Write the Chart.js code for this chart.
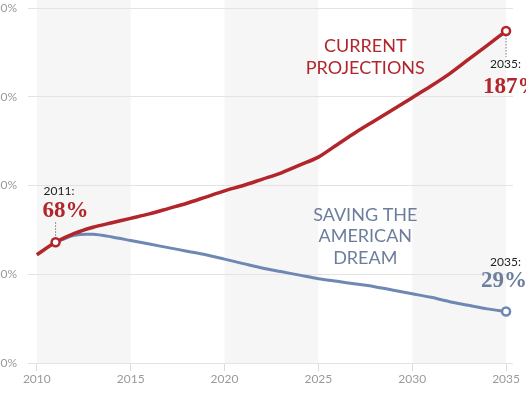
<!DOCTYPE html>
<html>
<head>
<meta charset="utf-8">
<script src="https://cdn.jsdelivr.net/npm/chart.js@4.4.1/dist/chart.umd.min.js"></script>
<style>
  html, body { margin: 0; padding: 0; background: #fff; overflow: hidden; width: 526px; height: 395px; }
  #wrap { position: absolute; left: -40px; top: 0; width: 566px; height: 395px; }
</style>
</head>
<body>
<div id="wrap"><canvas id="c" width="566" height="395"></canvas></div>
<script>
const years = [2010,2011,2012,2013,2014,2015,2016,2017,2018,2019,2020,2021,2022,2023,2024,2025,2026,2027,2028,2029,2030,2031,2032,2033,2034,2035];
const currentProjections = [61,68,73,76.5,79,81.5,84,87,90,93.5,97,100,103.5,107,111.5,116,123,130,136.5,143,149.5,156,163,171,179,187];
const savingDream = [null,68,72,72.5,71,69,67,65,63,61,58.5,56,53.5,51.5,49.5,47.5,46,44.5,43,41,39,37,34.5,32.5,30.5,29];
const xTicks = [2010,2015,2020,2025,2030,2035];
const yTicks = [0,50,100,150,200];
const bandStarts = [2010,2020,2030];
const bandWidth = 5;

const RED = '#b1252b';
const BLUE = '#6e87b3';
const BLUE_TEXT = '#6c7e9c';

const bandsPlugin = {
  id: 'bands',
  beforeDraw(chart) {
    const {ctx, chartArea, scales: {x}} = chart;
    ctx.save();
    ctx.fillStyle = '#f6f6f6';
    bandStarts.forEach(s => {
      const a = x.getPixelForValue(s), b = x.getPixelForValue(s + bandWidth);
      ctx.fillRect(a, 0, b - a, chartArea.bottom);
    });
    ctx.restore();
  }
};

function markIdx(ds, i) {
  if (ds === 0) return (i === 1 || i === years.length - 1) ? 4 : 0;
  return i === years.length - 1 ? 4 : 0;
}

const annotPlugin = {
  id: 'annot',
  beforeDatasetsDraw(chart) {
    const {ctx, scales: {x, y}} = chart;
    ctx.save();
    ctx.strokeStyle = '#777';
    ctx.lineWidth = 1;
    ctx.setLineDash([1.5, 1.5]);
    const p1x = x.getPixelForValue(years[1]), p1y = y.getPixelForValue(currentProjections[1]);
    ctx.beginPath(); ctx.moveTo(p1x, p1y - 20); ctx.lineTo(p1x, p1y - 4); ctx.stroke();
    const n = years.length - 1;
    const p2x = x.getPixelForValue(years[n]), p2y = y.getPixelForValue(currentProjections[n]);
    ctx.beginPath(); ctx.moveTo(p2x, p2y + 4); ctx.lineTo(p2x, p2y + 26); ctx.stroke();
    ctx.restore();
  },
  afterDatasetsDraw(chart) {
    const {ctx, chartArea, scales: {x, y}} = chart;
    const n = years.length - 1;
    ctx.save();
    // 2011 label
    const p1x = x.getPixelForValue(years[1]), p1y = y.getPixelForValue(currentProjections[1]);
    ctx.textAlign = 'left';
    ctx.textBaseline = 'middle';
    ctx.fillStyle = '#222';
    ctx.font = '12px Lato, "Open Sans", sans-serif';
    ctx.fillText(years[1] + ':', p1x - 12, p1y - 51);
    ctx.textBaseline = 'alphabetic';
    ctx.fillStyle = RED;
    ctx.font = 'bold 23px "Liberation Serif", serif';
    ctx.fillText(currentProjections[1] + '%', p1x - 13, p1y - 25);

    // 2035 red
    const p2x = x.getPixelForValue(years[n]), p2y = y.getPixelForValue(currentProjections[n]);
    ctx.textBaseline = 'middle';
    ctx.fillStyle = '#222';
    ctx.font = '12px Lato, "Open Sans", sans-serif';
    ctx.fillText(years[n] + ':', p2x - 16, p2y + 33);
    ctx.textBaseline = 'alphabetic';
    ctx.fillStyle = RED;
    ctx.font = 'bold 23px "Liberation Serif", serif';
    ctx.fillText(currentProjections[n] + '%', p2x - 23, p2y + 62);

    // 2035 blue
    const p3x = x.getPixelForValue(years[n]), p3y = y.getPixelForValue(savingDream[n]);
    ctx.textBaseline = 'middle';
    ctx.fillStyle = '#222';
    ctx.font = '12px Lato, "Open Sans", sans-serif';
    ctx.fillText(years[n] + ':', p3x - 16, p3y - 49);
    ctx.textBaseline = 'alphabetic';
    ctx.fillStyle = BLUE_TEXT;
    ctx.font = 'bold 23px "Liberation Serif", serif';
    ctx.fillText(savingDream[n] + '%', p3x - 25, p3y - 25);

    // series titles
    const cx = x.getPixelForValue(2027.5);
    ctx.textAlign = 'center';
    ctx.textBaseline = 'middle';
    ctx.font = '18px Lato, "Open Sans", sans-serif';
    ctx.fillStyle = RED;
    ctx.fillText('CURRENT', cx, chartArea.top + 38.5);
    ctx.fillText('PROJECTIONS', cx, chartArea.top + 60.5);
    ctx.fillStyle = BLUE_TEXT;
    ctx.fillText('SAVING THE', cx, chartArea.top + 207);
    ctx.fillText('AMERICAN', cx, chartArea.top + 228.5);
    ctx.fillText('DREAM', cx, chartArea.top + 250);
    ctx.restore();
  }
};

new Chart(document.getElementById('c'), {
  type: 'line',
  data: {
    datasets: [
      {
        label: 'Current projections',
        data: years.map((yr, i) => ({x: yr, y: currentProjections[i]})),
        borderColor: RED,
        borderWidth: 3.5,
        tension: 0.3,
        pointRadius: c => markIdx(0, c.dataIndex),
        pointBackgroundColor: '#fff',
        pointBorderColor: RED,
        pointBorderWidth: 2.5,
        fill: false
      },
      {
        label: 'Saving the American Dream',
        data: years.map((yr, i) => ({x: yr, y: savingDream[i]})),
        borderColor: BLUE,
        borderWidth: 3,
        tension: 0.3,
        pointRadius: c => markIdx(1, c.dataIndex),
        pointBackgroundColor: '#fff',
        pointBorderColor: BLUE,
        pointBorderWidth: 2.5,
        fill: false
      }
    ]
  },
  options: {
    responsive: false,
    animation: false,
    events: [],
    layout: { padding: { left: 0, right: 13, top: 0, bottom: 0 } },
    plugins: { legend: { display: false }, tooltip: { enabled: false } },
    scales: {
      x: {
        type: 'linear',
        min: 2009.53,
        max: 2035.37,
        afterBuildTicks: s => { s.ticks = xTicks.map(v => ({value: v})); },
        afterFit: s => { s.height = 32; },
        grid: { drawOnChartArea: false, drawTicks: true, tickLength: 8, color: '#dcdcdc' },
        border: { display: false },
        ticks: {
          color: '#9a9a9a',
          font: { family: 'Lato, "Open Sans", sans-serif', size: 12 },
          padding: 1,
          maxRotation: 0,
          callback: v => String(v)
        }
      },
      y: {
        min: 0,
        max: 200,
        afterBuildTicks: s => { s.ticks = yTicks.map(v => ({value: v})); },
        afterFit: s => { s.width = 68; s.paddingTop = 8; s.paddingBottom = 0; },
        grid: { drawTicks: false, color: '#e3e3e3' },
        border: { display: false },
        ticks: {
          color: '#9a9a9a',
          font: { family: 'Lato, "Open Sans", sans-serif', size: 12 },
          padding: 11,
          callback: v => v + '%'
        }
      }
    }
  },
  plugins: [bandsPlugin, annotPlugin]
});
</script>
</body>
</html>
